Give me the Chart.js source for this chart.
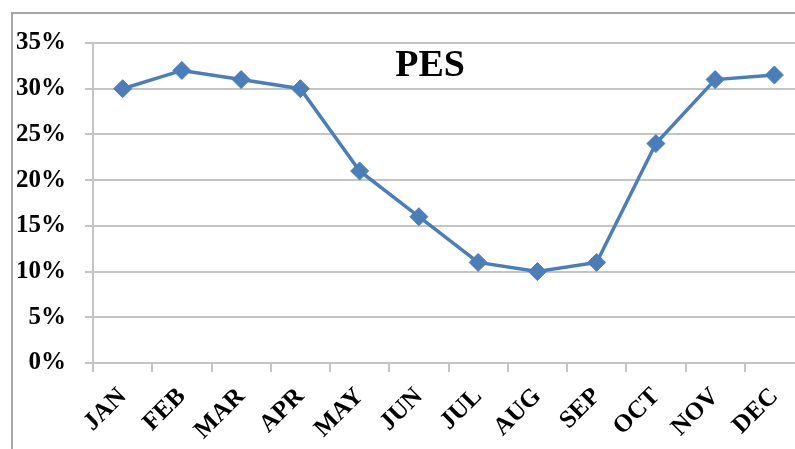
<!DOCTYPE html>
<html lang="en">
<head>
  <meta charset="UTF-8">
  <title>PES</title>
  <script src="https://cdn.jsdelivr.net/npm/chart.js"></script>
  <style>
    html, body { margin: 0; padding: 0; background: #fff; overflow: hidden; }
    #frame {
      position: absolute; left: 11px; top: 12px;
      width: 830px; height: 460px;
      border-left: 2px solid #a6a6a6; border-top: 2px solid #a6a6a6;
    }
    #wrap { position: absolute; left: 0px; top: -5px; width: 801px; height: 440px; }
  </style>
</head>
<body>
  <div id="frame">
    <div id="wrap"><canvas id="pesChart"></canvas></div>
  </div>

  <script>
    const months = ['JAN', 'FEB', 'MAR', 'APR', 'MAY', 'JUN', 'JUL', 'AUG', 'SEP', 'OCT', 'NOV', 'DEC'];
    const pesValues = [30, 32, 31, 30, 21, 16, 11, 10, 11, 24, 31, 31.5];
    const yTicks = [0, 5, 10, 15, 20, 25, 30, 35];
    const chartTitle = 'PES';

    const serif = '"Liberation Serif", "Times New Roman", Times, serif';
    const lineBlue = '#4a7ebb';
    const gridGray = '#c4c4c4';

    // title sits inside the plot area, not above it
    const innerTitle = {
      id: 'innerTitle',
      afterDraw(chart) {
        const { ctx, chartArea } = chart;
        ctx.save();
        ctx.font = 'bold 38px ' + serif;
        ctx.fillStyle = '#000';
        ctx.textAlign = 'center';
        ctx.textBaseline = 'middle';
        ctx.fillText(chartTitle, chartArea.left + 0.474 * (chartArea.right - chartArea.left), chartArea.top + 23);
        ctx.restore();
      }
    };

    function draw() {
      new Chart(document.getElementById('pesChart'), {
        type: 'line',
        data: {
          labels: months,
          datasets: [{
            label: chartTitle,
            data: pesValues,
            borderColor: lineBlue,
            backgroundColor: lineBlue,
            borderWidth: 3.5,
            pointStyle: 'rectRot',
            pointRadius: 9,
            pointBorderWidth: 1,
            pointBackgroundColor: lineBlue,
            pointBorderColor: lineBlue,
            tension: 0
          }]
        },
        options: {
          responsive: true,
          maintainAspectRatio: false,
          animation: false,
          layout: { padding: { top: 19, right: 7, left: 0, bottom: 0 } },
          plugins: {
            legend: { display: false },
            tooltip: { enabled: false }
          },
          scales: {
            x: {
              offset: true,
              grid: { offset: true, drawOnChartArea: false, drawTicks: true, tickLength: 9, color: gridGray, lineWidth: 2 },
              border: { color: gridGray, width: 2 },
              ticks: {
                color: '#000',
                font: { family: serif, size: 25, weight: 'bold' },
                maxRotation: 45,
                minRotation: 45,
                padding: 10,
                autoSkip: false
              },
              afterFit(scale) { scale.height = 86; }
            },
            y: {
              min: 0,
              max: 35,
              afterBuildTicks(scale) { scale.ticks = yTicks.map(v => ({ value: v })); },
              grid: { color: gridGray, lineWidth: 2, drawTicks: true, tickLength: 8 },
              border: { color: gridGray, width: 2 },
              ticks: {
                color: '#000',
                font: { family: serif, size: 25, weight: 'bold' },
                padding: 19,
                callback: v => v + '%'
              },
              afterFit(scale) { scale.width = 80; }
            }
          }
        },
        plugins: [innerTitle]
      });
    }

    document.fonts.load('bold 25px "Liberation Serif"').then(draw, draw);
  </script>
</body>
</html>
